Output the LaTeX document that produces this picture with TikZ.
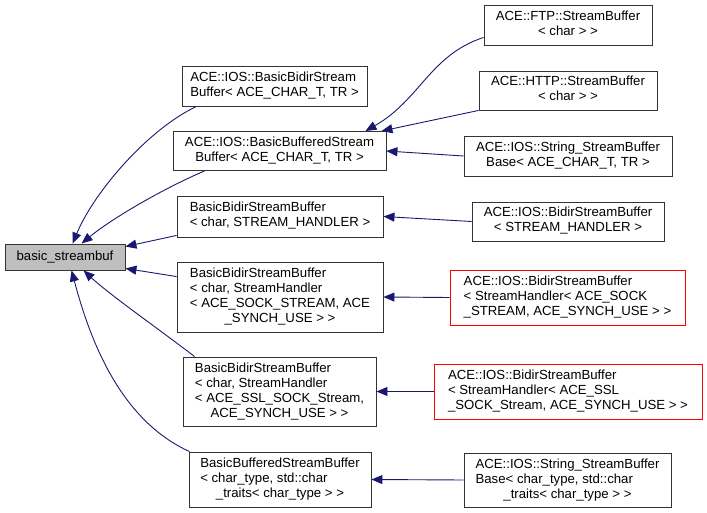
\documentclass[tikz,border=0pt]{standalone}
\usepackage{fontspec}
\setmainfont{Liberation Sans}
\usetikzlibrary{arrows.meta}
\definecolor{edgeblue}{HTML}{191970}
\definecolor{basegray}{HTML}{BFBFBF}
\newcommand{\dxl}[2]{\begin{tabular}{@{}l@{}}#1\\\multicolumn{1}{@{}c@{}}{#2}\end{tabular}}
\tikzset{
  cls/.style={draw=black!80, line width=0.9pt, fill=white, rectangle, inner sep=0pt,
    font=\fontsize{13.2}{15}\selectfont},
  redcls/.style={cls, draw=red},
  basecls/.style={cls, fill=basegray},
  inh/.style={draw=edgeblue, line width=0.9pt, -{Triangle[length=11pt,width=9pt]}}
}
\begin{document}
\begin{tikzpicture}[x=1pt,y=-1pt]
\useasboundingbox (0,0) rectangle (707,513);
% left
\node[basecls, minimum width=120pt, minimum height=26pt] (base) at (65,257) {basic\_streambuf};
% middle
\node[cls, minimum width=185pt, minimum height=40pt] (B1) at (274.5,86) {\dxl{ACE::IOS::BasicBidirStream}{Buffer< ACE\_CHAR\_T, TR >}};
\node[cls, minimum width=213pt, minimum height=39pt] (B2) at (279.5,151) {\dxl{ACE::IOS::BasicBufferedStream}{Buffer< ACE\_CHAR\_T, TR >}};
\node[cls, minimum width=206pt, minimum height=41pt] (B3) at (280,216.5) {\dxl{BasicBidirStreamBuffer}{< char, STREAM\_HANDLER >}};
\node[cls, minimum width=206pt, minimum height=70pt] (B4) at (280,297) {\dxl{BasicBidirStreamBuffer\\< char, StreamHandler\\< ACE\_SOCK\_STREAM, ACE}{\_SYNCH\_USE > >}};
\node[cls, minimum width=193pt, minimum height=69pt] (B5) at (279.5,391.5) {\dxl{BasicBidirStreamBuffer\\< char, StreamHandler\\< ACE\_SSL\_SOCK\_Stream,}{ACE\_SYNCH\_USE > >}};
\node[cls, minimum width=182pt, minimum height=55pt] (B6) at (280,479.5) {\dxl{BasicBufferedStreamBuffer\\< char\_type, std::char}{\_traits< char\_type > >}};
% right
\node[cls, minimum width=168pt, minimum height=40pt] (R1) at (568,25) {\dxl{ACE::FTP::StreamBuffer}{< char > >}};
\node[cls, minimum width=178pt, minimum height=39pt] (R2) at (568,90.5) {\dxl{ACE::HTTP::StreamBuffer}{< char > >}};
\node[cls, minimum width=208pt, minimum height=40pt] (R3) at (568,156) {\dxl{ACE::IOS::String\_StreamBuffer}{Base< ACE\_CHAR\_T, TR >}};
\node[cls, minimum width=192pt, minimum height=39pt] (R4) at (568,221.5) {\dxl{ACE::IOS::BidirStreamBuffer}{< STREAM\_HANDLER >}};
\node[redcls, minimum width=235pt, minimum height=55pt] (R5) at (567.5,297.5) {\dxl{ACE::IOS::BidirStreamBuffer\\< StreamHandler< ACE\_SOCK}{\_STREAM, ACE\_SYNCH\_USE > >}};
\node[redcls, minimum width=268pt, minimum height=55pt] (R6) at (568,391.5) {\dxl{ACE::IOS::BidirStreamBuffer\\< StreamHandler< ACE\_SSL}{\_SOCK\_Stream, ACE\_SYNCH\_USE > >}};
\node[cls, minimum width=207pt, minimum height=54pt] (R7) at (567.5,480) {\dxl{ACE::IOS::String\_StreamBuffer\\Base< char\_type, std::char}{\_traits< char\_type > >}};
% edges to base
\draw[inh] ([xshift=15pt]B1.south west) .. controls (150,128) and (95,190) .. ([xshift=68pt]base.north west);
\draw[inh] ([xshift=32pt]B2.south west) .. controls (160,190) and (110,220) .. ([xshift=77pt]base.north west);
\draw[inh] ([yshift=2pt]B3.south west) -- ([yshift=-3pt]base.north east);
\draw[inh] ([yshift=-15pt]B4.north west) -- ([yshift=2pt]base.south east);
\draw[inh] ([xshift=12pt]B5.north west) .. controls (160,330) and (110,295) .. ([xshift=79pt]base.south west);
\draw[inh] ([xshift=1pt]B6.north west) .. controls (120,420) and (90,340) .. ([xshift=67pt]base.south west);
% edges to middle
\draw[inh] ([yshift=8pt]R1.south west) .. controls (430,55) and (420,100) .. ([xshift=-21pt]B2.north east);
\draw[inh] (R2.south west) -- ([xshift=-5pt]B2.north east);
\draw[inh] (R3.west) -- (B2.east);
\draw[inh] (R4.west) -- (B3.east);
\draw[inh] (R5.west) -- (B4.east);
\draw[inh] (R6.west) -- (B5.east);
\draw[inh] (R7.west) -- (B6.east);
\end{tikzpicture}
\end{document}
